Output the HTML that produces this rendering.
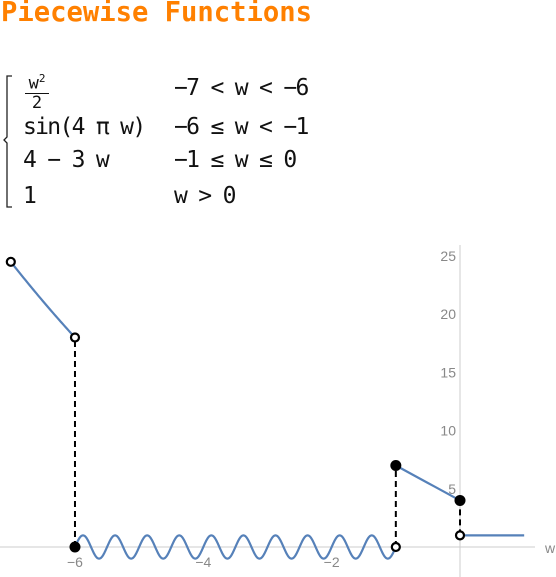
<!DOCTYPE html>
<html><head><meta charset="utf-8"><style>
body{margin:0;width:556px;height:577px;background:#fff;overflow:hidden;position:relative}
.t{position:absolute;left:1px;top:-3px;font-weight:bold;font-size:27.2px;font-family:"DejaVu Sans Mono",monospace;color:#ff8000}
.f{position:absolute;font-size:23px;letter-spacing:-1.7px;color:#111;font-family:"DejaVu Sans Mono","Liberation Mono",monospace;white-space:pre}
</style></head><body>
<div class="t">Piecewise Functions</div>
<div>
<svg style="position:absolute;left:0;top:70px" width="20" height="140"><path d="M12 6 H7 V67 L4 70 L7 73 V137 H12" fill="none" stroke="#222" stroke-width="1.3"/></svg>
<div class="f" style="left:25px;top:71px;font-size:17px;letter-spacing:0;line-height:16px;text-align:center;width:24px">w<sup style="font-size:11px">2</sup><div style="border-top:1px solid #111;margin:1px 0 1px"></div>2</div>
<div class="f" style="left:174px;top:75px">−7 &lt; w &lt; −6</div>
<div class="f" style="left:23px;top:114px">sin(4 π w)</div>
<div class="f" style="left:174px;top:114px">−6 ≤ w &lt; −1</div>
<div class="f" style="left:23px;top:147px">4 − 3 w</div>
<div class="f" style="left:174px;top:147px">−1 ≤ w ≤ 0</div>
<div class="f" style="left:23px;top:183px">1</div>
<div class="f" style="left:174px;top:183px">w &gt; 0</div>
</div>
<svg id="c" style="position:absolute;left:0;top:0" width="556" height="577"></svg>
<script>
const xTicks=[-6,-4,-2];
const yTicks=[5,10,15,20,25];
const openPts=[[-7,24.5],[-6,18],[-1,0],[0,1]];
const closedPts=[[-6,0],[-1,7],[0,4]];
const jumps=[[-6,0,18],[-1,0,7],[0,1,4]];
const X=w=>460+w*64.17, Y=v=>547-v*11.64;
const s=document.getElementById('c'),NS='http://www.w3.org/2000/svg';
function el(t,a,p){const e=document.createElementNS(NS,t);for(const k in a)e.setAttribute(k,a[k]);(p||s).appendChild(e);return e;}
let e=el('line',{x1:0,y1:Y(0),x2:535,y2:Y(0),stroke:'#ccc'});

e=el('line',{x1:X(0),y1:245,x2:X(0),y2:577,stroke:'#ccc'});

xTicks.forEach(v=>{const t=el('text',{x:X(v),y:567,'font-size':14,fill:'#888','text-anchor':'middle','font-family':'Liberation Sans'});t.textContent='−'+(-v);
});
yTicks.forEach(v=>{const t=el('text',{x:X(0)-4,y:Y(v)+5,'font-size':14,fill:'#888','text-anchor':'end','font-family':'Liberation Sans'});t.textContent=v;
});
e=el('text',{x:545,y:553,'font-size':14,fill:'#888','font-family':'Liberation Sans'});e.textContent='w';

jumps.forEach(j=>{const l=el('line',{x1:X(j[0]),y1:Y(j[1]),x2:X(j[0]),y2:Y(j[2]),stroke:'#000','stroke-width':2,'stroke-dasharray':'6,4'});
});
function curve(f,a,b,n,name){let d='';for(let i=0;i<=n;i++){const w=a+(b-a)*i/n;d+=(i?'L':'M')+X(w).toFixed(2)+' '+Y(f(w)).toFixed(2);}
const p=el('path',{d:d,fill:'none',stroke:'#5681b9','stroke-width':2.2});}
curve(w=>w*w/2,-7,-6,40,'segment-quadratic');
curve(w=>Math.sin(4*Math.PI*w),-6,-1,800,'segment-sine');
curve(w=>4-3*w,-1,0,10,'segment-linear');
curve(w=>1,0,1,4,'segment-constant');
openPts.forEach(p=>{const c=el('circle',{cx:X(p[0]),cy:Y(p[1]),r:4,fill:'#fff',stroke:'#000','stroke-width':2.2});
});
closedPts.forEach(p=>{const c=el('circle',{cx:X(p[0]),cy:Y(p[1]),r:5.5,fill:'#000'});
});
</script>
</body></html>
